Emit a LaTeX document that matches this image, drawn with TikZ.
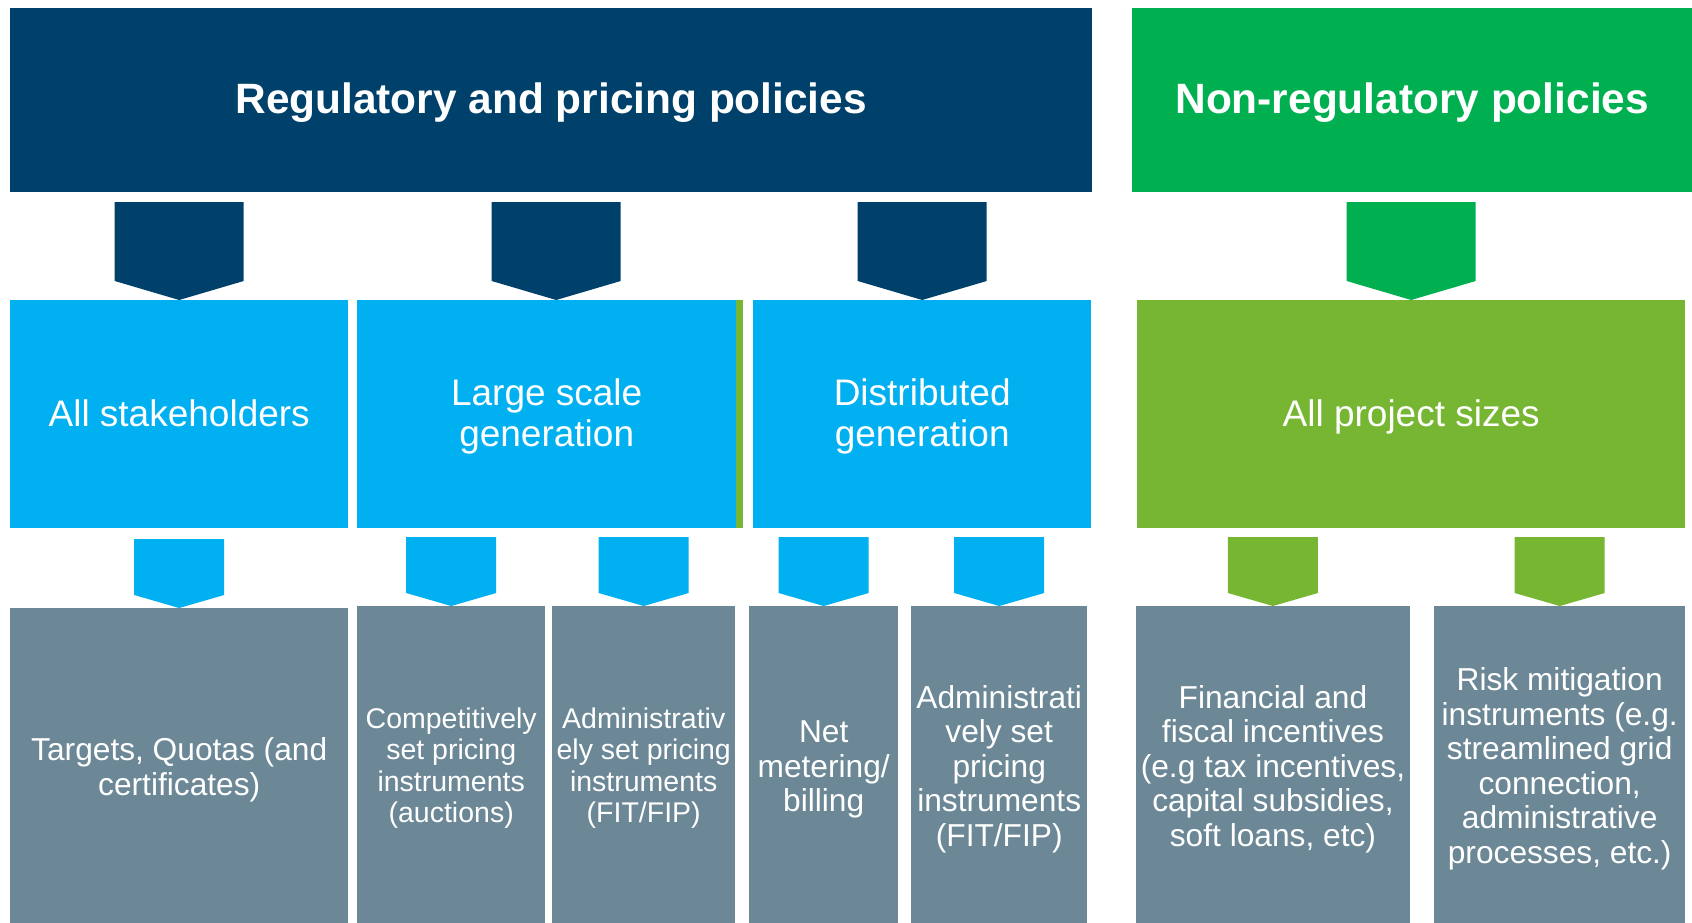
\documentclass[tikz,border=0pt]{standalone}
\usepackage{fontspec}
\setmainfont{Liberation Sans}
\usetikzlibrary{calc}

\definecolor{navy}{RGB}{0,65,107}
\definecolor{leafgreen}{RGB}{0,176,80}
\definecolor{skyblue}{RGB}{0,176,240}
\definecolor{lime}{RGB}{118,182,50}
\definecolor{slate}{RGB}{108,136,150}

% even line heights, so every label sits the same way in its box
\newcommand{\upstrut}{\rule{0pt}{\lift}}
\newcommand{\downstrut}{\rule[-0.22em]{0pt}{0.22em}}

\tikzset{
  cell/.style={rectangle, anchor=north west, inner sep=0pt, align=center, text=white},
  head/.style={cell, minimum height=184.5, font=\bfseries\fontsize{42.4}{50}\selectfont\def\lift{0.845em}},
  group/.style={cell, minimum height=228, font=\fontsize{37}{41}\selectfont\def\lift{0.87em}},
  leaf/.style={cell, fill=slate, minimum height=317, font=\fontsize{31.7}{34.5}\selectfont\def\lift{1.01em}},
  smallleaf/.style={leaf, font=\fontsize{28.5}{31.3}\selectfont\def\lift{0.98em}},
  pics/bigchev/.style={code={
    \fill[pic actions] (0,0) -- (-64.5,-19) -- (-64.5,-98) -- (64.5,-98) -- (64.5,-19) -- cycle;}},
  pics/smallchev/.style={code={
    \fill[pic actions] (0,0) -- (-45,-13) -- (-45,-69) -- (45,-69) -- (45,-13) -- cycle;}},
}

\begin{document}
\begin{tikzpicture}[x=1pt, y=-1pt]
  \useasboundingbox (0,0) rectangle (1692,923);
  \fill[white] (0,0) rectangle (1692,923);

  % policy headers
  \node[head, fill=navy, minimum width=1082] (reg) at (10,7.5) {\upstrut Regulatory and pricing policies\downstrut};
  \node[head, fill=leafgreen, minimum width=560] (nonreg) at (1132,7.5) {\upstrut Non-regulatory policies\downstrut};

  % target groups
  \node[group, fill=skyblue, minimum width=338] (stake) at (10,300) {\upstrut All stakeholders\downstrut};
  \node[group, fill=skyblue, minimum width=379] (large) at (357,300) {\upstrut Large scale\\generation\downstrut};
  \fill[lime] (736,300) rectangle (743,528);
  \node[group, fill=skyblue, minimum width=338] (distgen) at (753,300) {\upstrut Distributed\\generation\downstrut};
  \node[group, fill=lime, minimum width=548] (sizes) at (1137,300) {\upstrut All project sizes\downstrut};

  % instruments
  \node[leaf, minimum width=338, minimum height=315] (targets) at (10,608) {\upstrut Targets, Quotas (and\\certificates)\downstrut};
  \node[smallleaf, minimum width=188] (auction) at (357,606) {\upstrut Competitively\\set pricing\\instruments\\(auctions)\downstrut};
  \node[smallleaf, minimum width=183] (fitlarge) at (552,606) {\upstrut Administrativ\\ely set pricing\\instruments\\(FIT/FIP)\downstrut};
  \node[leaf, minimum width=149] (netmet) at (749,606) {\upstrut Net\\metering/\\billing\downstrut};
  \node[leaf, minimum width=176] (fitdist) at (911,606) {\upstrut Administrati\\vely set\\pricing\\instruments\\(FIT/FIP)\downstrut};
  \node[leaf, minimum width=273.5] (fiscal) at (1136,606) {\upstrut Financial and\\fiscal incentives\\(e.g tax incentives,\\capital subsidies,\\soft loans, etc)\downstrut};
  \node[leaf, minimum width=251] (risk) at (1434,606) {\upstrut Risk mitigation\\instruments (e.g.\\streamlined grid\\connection,\\administrative\\processes, etc.)\downstrut};

  % chevrons
  \pic[fill=navy] at (stake.north) {bigchev};
  \pic[fill=navy] at ($(large.north)+(9.5,0)$) {bigchev};
  \pic[fill=navy] at (distgen.north) {bigchev};
  \pic[fill=leafgreen] at (sizes.north) {bigchev};

  \foreach \n in {targets,auction,fitlarge,netmet,fitdist}
    \pic[fill=skyblue] at (\n.north) {smallchev};
  \foreach \n in {fiscal,risk}
    \pic[fill=lime] at (\n.north) {smallchev};
\end{tikzpicture}
\end{document}
